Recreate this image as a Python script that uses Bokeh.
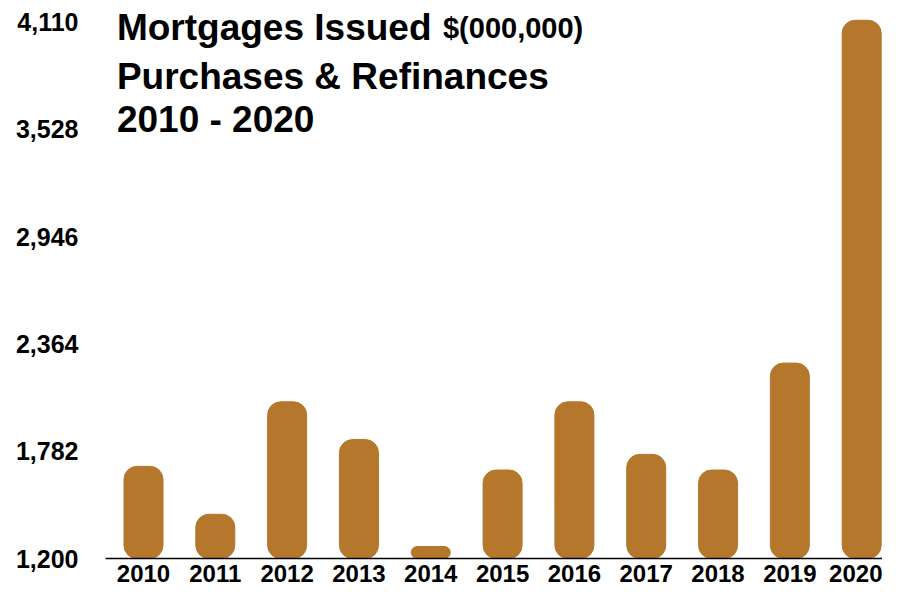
from bokeh.plotting import figure
from bokeh.models import Range1d, FixedTicker, NumeralTickFormatter, Label
from bokeh.embed import file_html
from bokeh.resources import INLINE

years = ["2010", "2011", "2012", "2013", "2014", "2015", "2016", "2017", "2018", "2019", "2020"]
values = [1700, 1440, 2050, 1845, 1265, 1680, 2050, 1765, 1680, 2260, 4120]
y_ticks = [1200, 1782, 2364, 2946, 3528, 4110]
baseline = 1200
title_lines = ["Mortgages Issued", "Purchases & Refinances", "2010 - 2020"]
title_unit = "$(000,000)"

FONT = "Liberation Sans"
BAR = "#B4772C"

x = list(range(len(years)))

p = figure(width=882, height=589, output_backend="svg", toolbar_location=None,
           x_range=Range1d(-0.529, 10.29), y_range=Range1d(baseline, 4227),
           min_border_left=105, min_border_right=0, min_border_top=0, min_border_bottom=31)

p.vbar(x=x, top=values, bottom=baseline, width=0.543, color=BAR, border_radius=13)

p.xgrid.visible = False
p.ygrid.visible = False
p.outline_line_color = None
p.background_fill_color = "white"
p.border_fill_color = "white"

xa = p.xaxis[0]
xa.ticker = FixedTicker(ticks=x)
xa.major_label_overrides = {i: y for i, y in enumerate(years)}
xa.major_tick_line_color = None
xa.major_tick_out = 0
xa.major_tick_in = 0
xa.minor_tick_line_color = None
xa.axis_line_color = "black"
xa.axis_line_width = 1.5
xa.major_label_text_font = FONT
xa.major_label_text_font_style = "bold"
xa.major_label_text_font_size = "24px"
xa.major_label_text_color = "black"
xa.major_label_standoff = 6

ya = p.yaxis[0]
ya.ticker = FixedTicker(ticks=y_ticks)
ya.formatter = NumeralTickFormatter(format="0,0")
ya.axis_line_color = None
ya.major_tick_line_color = None
ya.major_tick_out = 0
ya.major_tick_in = 0
ya.minor_tick_line_color = None
ya.major_label_text_font = FONT
ya.major_label_text_font_style = "bold"
ya.major_label_text_font_size = "25px"
ya.major_label_text_color = "black"
ya.major_label_standoff = 27

# title block placed in data coordinates
title_x = -0.37
title_ys = [4082, 3817, 3580]
for line, yy in zip(title_lines, title_ys):
    p.add_layout(Label(x=title_x, y=yy, text=line,
                       text_font=FONT, text_font_style="bold", text_font_size="37px",
                       text_color="black", text_baseline="middle"))
p.add_layout(Label(x=4.17, y=4079, text=title_unit,
                   text_font=FONT, text_font_style="bold", text_font_size="29px",
                   text_color="black", text_baseline="middle"))

open("out.html", "w").write(file_html(p, INLINE))
